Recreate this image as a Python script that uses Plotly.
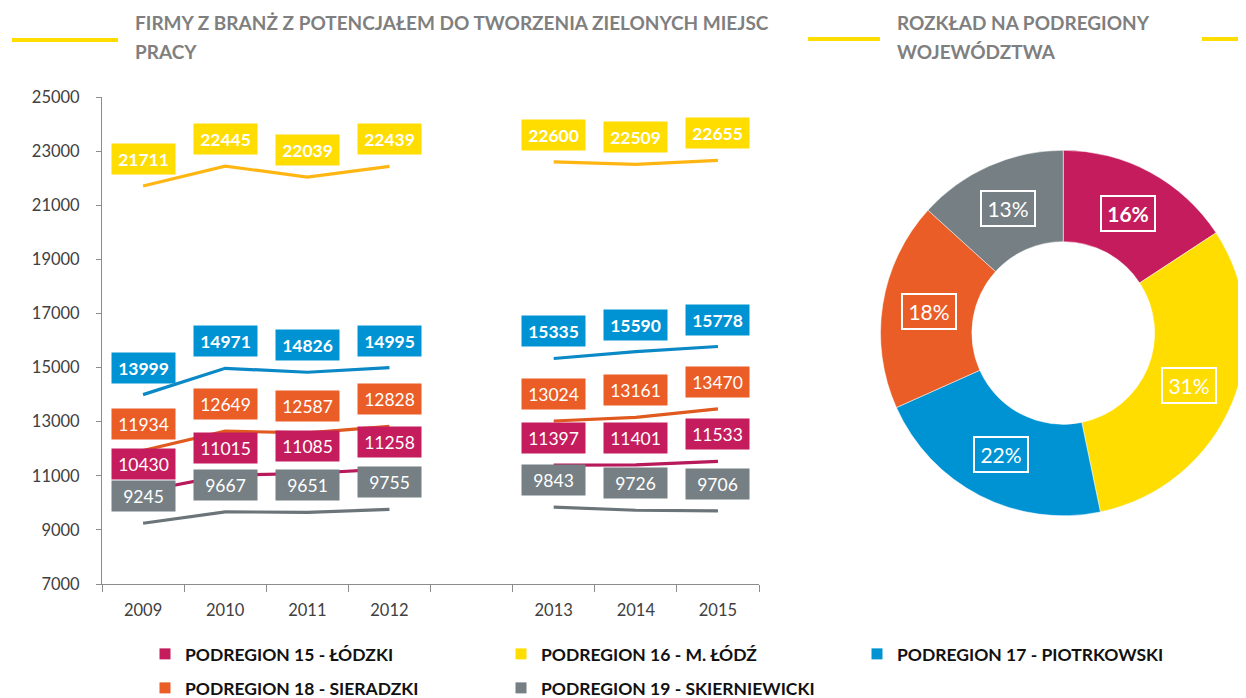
import math
import plotly.graph_objects as go

# page is 1246x698; the page body has an 8px margin, so the figure is 8px smaller
OFF = 8
W, H = 1246 - OFF, 698 - OFF

# ---------------- data ----------------
years = ["2009", "2010", "2011", "2012", "2013", "2014", "2015"]
gap_after = "2012"  # empty category between 2012 and 2013
series_names = [
    "PODREGION 15 - ŁÓDZKI",
    "PODREGION 16 - M. ŁÓDŹ",
    "PODREGION 17 - PIOTRKOWSKI",
    "PODREGION 18 - SIERADZKI",
    "PODREGION 19 - SKIERNIEWICKI",
]
lodzki = [10430, 11015, 11085, 11258, 11397, 11401, 11533]
m_lodz = [21711, 22445, 22039, 22439, 22600, 22509, 22655]
piotrkowski = [13999, 14971, 14826, 14995, 15335, 15590, 15778]
sieradzki = [11934, 12649, 12587, 12828, 13024, 13161, 13470]
skierniewicki = [9245, 9667, 9651, 9755, 9843, 9726, 9706]
y_ticks = [7000, 9000, 11000, 13000, 15000, 17000, 19000, 21000, 23000, 25000]

series = [lodzki, m_lodz, piotrkowski, sieradzki, skierniewicki]
box_colors = ["#C41C5C", "#FFDD00", "#0093D3", "#EA5D26", "#757F84"]
line_colors = ["#B8195A", "#FFB612", "#0B88C6", "#E05A1F", "#6B7479"]
label_bold = [False, True, True, False, False]

FONT = "Lato"


def px(x):
    return (x - OFF) / W


def py(y):
    return 1 - (y - OFF) / H


# category slots (with one empty slot after 2012)
gi = years.index(gap_after) + 1
cats = years[:gi] + [""] + years[gi:]
year_pos = [cats.index(y) for y in years]
n_slots = len(cats)

fig = go.Figure()

# lines
for name, vals, lc in zip(series_names, series, line_colors):
    xs = year_pos[:gi] + [gi] + year_pos[gi:]
    ys = vals[:gi] + [None] + vals[gi:]
    fig.add_trace(go.Scatter(
        x=xs, y=ys, mode="lines", name=name,
        line=dict(color=lc, width=3.2), connectgaps=False,
        showlegend=False, hoverinfo="skip",
        xaxis="x", yaxis="y",
    ))

annotations = []
# data labels
for vals, bc, bold in zip(series, box_colors, label_bold):
    for xpos, v in zip(year_pos, vals):
        annotations.append(dict(
            x=xpos, y=v, xref="x", yref="y", yshift=27,
            xanchor="center", yanchor="middle",
            text=f"<b>{v}</b>" if bold else str(v),
            showarrow=False, bgcolor=bc, borderpad=3,
            width=57, height=24,
            font=dict(family=FONT, size=17.5, color="white"),
        ))

# pie (2015 distribution)
pie_vals = [s[-1] for s in series]
pie_cx, pie_cy, pie_r = 1063.5, 333, 183
fig.add_trace(go.Pie(
    values=pie_vals, labels=series_names, hole=0.5, sort=False,
    direction="clockwise", rotation=0,
    marker=dict(colors=box_colors, line=dict(color="white", width=0.5)),
    textinfo="none", showlegend=False, hoverinfo="skip",
    domain=dict(x=[px(pie_cx - pie_r), 1.0], y=[py(pie_cy + pie_r), py(pie_cy - pie_r)]),
))
tot = sum(pie_vals)
cum = 0
pie_bold = [True, False, False, False, False]
for v, b in zip(pie_vals, pie_bold):
    mid = (cum + v / 2) / tot * 2 * math.pi
    cum += v
    rr = pie_r * 0.745
    xx = pie_cx + rr * math.sin(mid)
    yy = pie_cy - rr * math.cos(mid)
    pct = round(v / tot * 100)
    annotations.append(dict(
        x=px(xx), y=py(yy), xref="paper", yref="paper",
        xanchor="center", yanchor="middle",
        text=f"<b>{pct}%</b>" if b else f"{pct}%", showarrow=False,
        bordercolor="white", borderwidth=2, borderpad=2,
        width=48, height=29,
        font=dict(family=FONT, size=21, color="white"),
    ))

# legend entries (square swatches), one legend per entry
legend_pos = [(145, 654), (501, 654), (857, 654), (145, 688), (501, 688)]
legend_keys = ["legend", "legend2", "legend3", "legend4", "legend5"]
for name, c, key in zip(series_names, box_colors, legend_keys):
    fig.add_trace(go.Scatter(
        x=[None], y=[None], mode="markers", name=name,
        marker=dict(symbol="square", size=11, color=c),
        legend=key, hoverinfo="skip",
    ))

# titles (one annotation per line)
title_font = dict(family=FONT, size=19, color="#7F7F7F", weight="bold")
for tx, lines in [(133, ["FIRMY Z BRANŻ Z POTENCJAŁEM DO TWORZENIA ZIELONYCH MIEJSC", "PRACY"]),
                  (895, ["ROZKŁAD NA PODREGIONY", "WOJEWÓDZTWA"])]:
    for k, line in enumerate(lines):
        annotations.append(dict(
            x=px(tx), y=py(23 + 28 * k), xref="paper", yref="paper",
            xanchor="left", yanchor="middle", align="left", showarrow=False,
            text=line, font=title_font,
        ))

shapes = [
    dict(type="line", xref="paper", yref="paper", x0=px(12), x1=px(118), y0=py(40), y1=py(40),
         line=dict(color="#FFDD00", width=4)),
    dict(type="line", xref="paper", yref="paper", x0=px(808), x1=px(880), y0=py(39), y1=py(39),
         line=dict(color="#FFDD00", width=4)),
    dict(type="line", xref="paper", yref="paper", x0=px(1202), x1=px(1246), y0=py(39), y1=py(39),
         line=dict(color="#FFDD00", width=4)),
]

legends = {}
for key, (lx, ly) in zip(legend_keys, legend_pos):
    legends[key] = dict(
        x=px(lx), y=py(ly), xanchor="left", yanchor="middle", orientation="h",
        font=dict(family=FONT, size=17.5, color="#111111", weight="bold"),
        bgcolor="rgba(0,0,0,0)", borderwidth=0,
        itemclick=False, itemdoubleclick=False,
    )

fig.update_layout(
    width=W, height=H,
    margin=dict(l=0, r=0, t=0, b=0, autoexpand=False),
    paper_bgcolor="white", plot_bgcolor="white",
    font=dict(family=FONT, size=16, color="#404040"),
    xaxis=dict(
        range=[-0.5, n_slots - 0.5],
        domain=[px(102), px(759)], anchor="y",
        tickmode="array", tickvals=year_pos, ticktext=years, ticks="",
        minor=dict(tickmode="linear", tick0=-0.5, dtick=1, ticks="outside",
                   ticklen=7, tickcolor="#8C8C8C", showgrid=False),
        showline=True, linecolor="#8C8C8C", linewidth=1, showgrid=False, zeroline=False,
        tickfont=dict(family=FONT, size=16.5, color="#404040"),
        ticklabelstandoff=11, fixedrange=True, automargin=False,
    ),
    yaxis=dict(
        range=[7000, 25000], tickvals=y_ticks, tickformat="d",
        domain=[py(584), py(97)], anchor="x",
        ticks="outside", ticklen=5, tickcolor="#8C8C8C",
        showline=True, linecolor="#8C8C8C", linewidth=1, showgrid=False, zeroline=False,
        tickfont=dict(family=FONT, size=16.5, color="#404040"),
        ticklabelstandoff=13, fixedrange=True, automargin=False,
    ),
    annotations=annotations,
    shapes=shapes,
    **legends,
)

fig.write_html("out.html")
